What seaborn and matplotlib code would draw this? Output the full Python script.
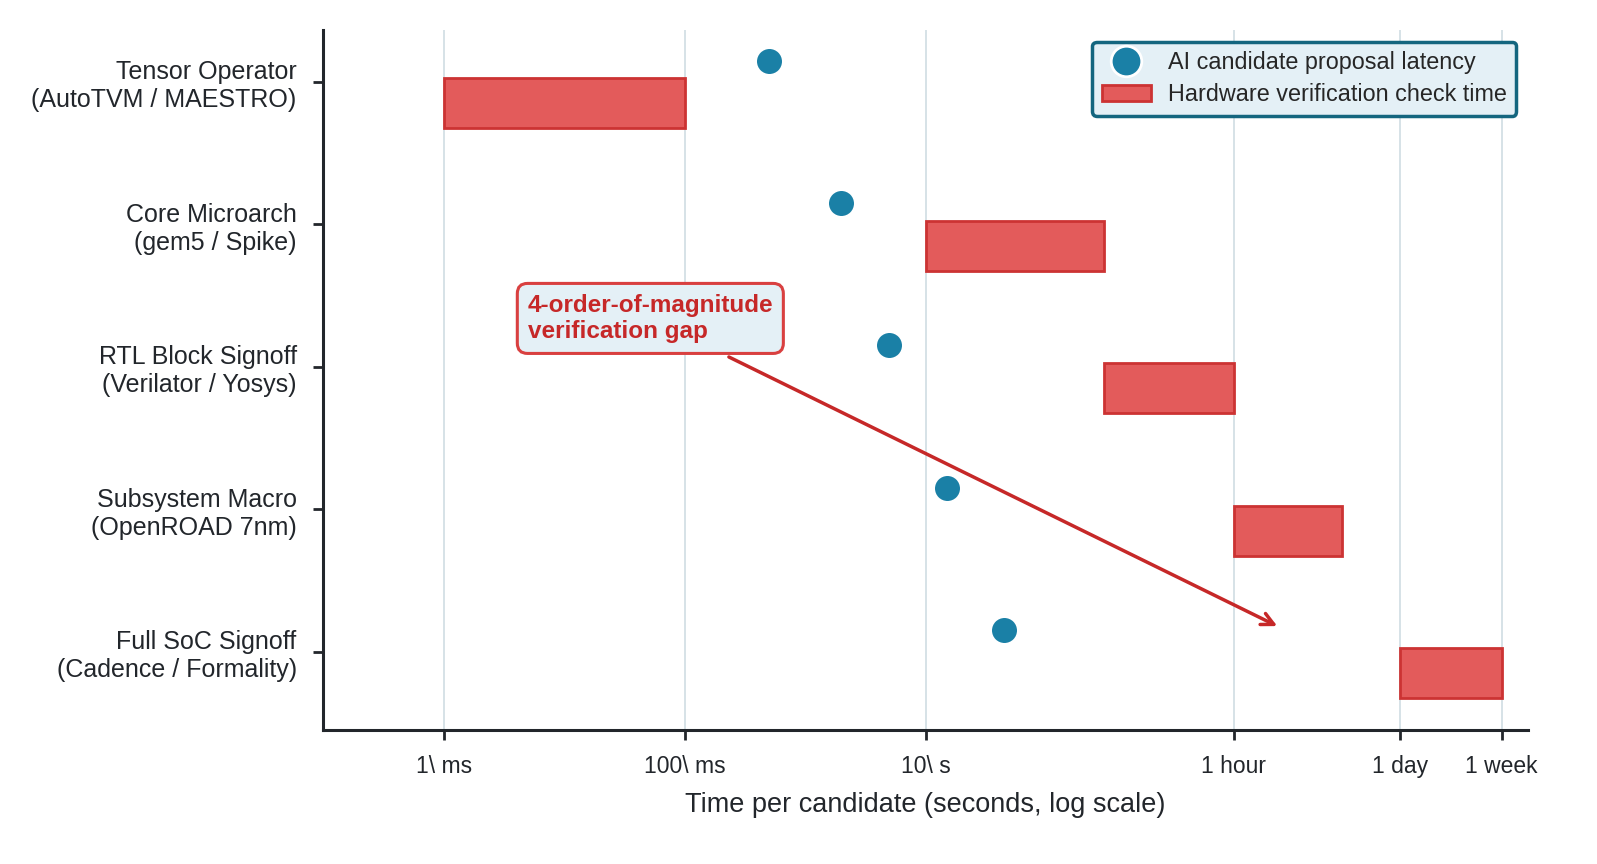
import matplotlib
matplotlib.use("Agg")
import matplotlib.pyplot as plt
import seaborn as sns
import pandas as pd
from matplotlib.patches import Patch
from matplotlib.lines import Line2D

# ---- data ----
stages = ["Tensor Operator\n(AutoTVM / MAESTRO)",
          "Core Microarch\n(gem5 / Spike)",
          "RTL Block Signoff\n(Verilator / Yosys)",
          "Subsystem Macro\n(OpenROAD 7nm)",
          "Full SoC Signoff\n(Cadence / Formality)"]
ai_latency = [0.5, 2.0, 5.0, 15.0, 45.0]               # seconds
verif_start = [1e-3, 10.0, 300.0, 3600.0, 86400.0]     # seconds
verif_end = [0.1, 300.0, 3600.0, 28800.0, 604800.0]    # seconds

tick_vals = [1e-3, 0.1, 10, 3600, 86400, 604800]
tick_labels = ["1\\ ms", "100\\ ms", "10\\ s", "1 hour", "1 day", "1 week"]

BLUE = "#1a80a6"
RED_FACE = "#e35b5b"
RED_EDGE = "#cc3333"
ARROW_RED = "#c62828"
DARK = "#22262b"

sns.set_theme(style="white")
plt.rcParams["font.family"] = ["Liberation Sans", "DejaVu Sans"]

fig = plt.figure(figsize=(15.97, 8.64), dpi=100)
ax = fig.add_axes([0.2023, 0.155, 0.7545, 0.8103])

ypos = list(range(len(stages)))
df = pd.DataFrame({"stage": stages, "y": ypos, "ai": ai_latency,
                   "start": verif_start, "end": verif_end})

# verification bars (below the category line)
ax.barh([y + 0.15 for y in ypos],
        [e - s for s, e in zip(verif_start, verif_end)],
        left=verif_start, height=0.35,
        color=RED_FACE, edgecolor=RED_EDGE, linewidth=2, zorder=3)

# AI latency dots (above the category line)
df["y_dot"] = df["y"] - 0.15
sns.scatterplot(data=df, x="ai", y="y_dot", s=380, color=BLUE,
                edgecolor="white", linewidth=1.5, zorder=4, ax=ax, legend=False)

ax.set_xscale("log")
ax.set_xlim(1e-4, 1e6)
ax.set_ylim(4.55, -0.365)
ax.set_xticks(tick_vals)
ax.set_xticklabels(tick_labels)
ax.minorticks_off()
ax.set_yticks(ypos)
ax.set_yticklabels(stages)
ax.tick_params(axis="both", labelsize=16.5, colors=DARK, length=7, width=2,
               direction="out", bottom=True, left=True, pad=11)
ax.tick_params(axis="y", labelsize=18, pad=12)
ax.set_xlabel("Time per candidate (seconds, log scale)", fontsize=19.5,
              color=DARK, labelpad=10)
ax.set_ylabel("")

ax.grid(axis="x", color="#d3dfe5", linewidth=1.3, zorder=0)
ax.grid(axis="y", visible=False)
ax.set_axisbelow(True)
for side in ["top", "right"]:
    ax.spines[side].set_visible(False)
for side in ["left", "bottom"]:
    ax.spines[side].set_color(DARK)
    ax.spines[side].set_linewidth(2.2)

# annotation
ax.annotate("4-order-of-magnitude\nverification gap",
            xy=(8300, 3.82), xytext=(0.052, 1.66),
            ha="center", va="center", multialignment="left",
            fontsize=17.5, fontweight="bold", color=ARROW_RED,
            bbox=dict(boxstyle="round,pad=0.42", facecolor="#e4f0f6",
                      edgecolor="#d94040", linewidth=2.2),
            arrowprops=dict(arrowstyle="->", color=ARROW_RED, lw=2.5,
                            mutation_scale=22, shrinkA=4, shrinkB=0),
            zorder=5)

handles = [Line2D([0], [0], marker="o", linestyle="none", markersize=22,
                  markerfacecolor=BLUE, markeredgecolor="white",
                  markeredgewidth=2),
           Patch(facecolor=RED_FACE, edgecolor=RED_EDGE, linewidth=2)]
leg = ax.legend(handles, ["AI candidate proposal latency",
                          "Hardware verification check time"],
                loc="upper right", fontsize=16.8, frameon=True,
                fancybox=True, borderaxespad=0.5, handletextpad=0.75,
                handlelength=2.1, labelspacing=0.4)
leg.get_frame().set_facecolor("#e4f0f6")
leg.get_frame().set_edgecolor("#14667f")
leg.get_frame().set_linewidth(2.5)
leg.get_frame().set_alpha(1)

fig.savefig("out.png", dpi=100)
